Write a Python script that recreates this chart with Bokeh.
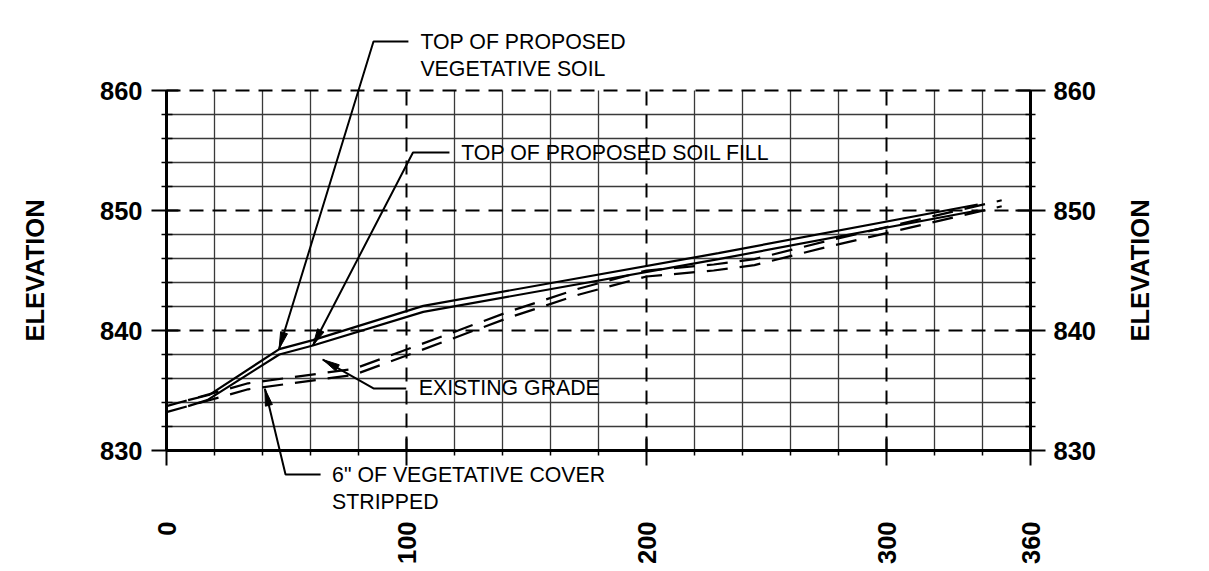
import math
from bokeh.plotting import figure
from bokeh.models import FixedTicker, LinearAxis, Range1d
from bokeh.core.properties import value
from bokeh.embed import file_html
from bokeh.resources import INLINE

# ---------------- data ----------------
station_veg = [9, 18, 47, 61, 107, 230, 338]
elev_veg = [834.2, 834.65, 838.45, 839.2, 842.05, 846.45, 850.5]

station_fill = [9, 17, 47, 61, 107, 230, 338]
elev_fill = [833.7, 834.2, 838.0, 838.75, 841.55, 845.95, 850.0]

station_exist = [0, 34, 78, 106, 143, 172, 200, 228, 245, 275, 290, 348]
elev_exist = [833.7, 835.6, 836.8, 838.85, 841.6, 843.5, 845.0, 845.5, 845.95, 847.45, 848.15, 850.85]

station_strip = [0, 34, 78, 106, 143, 172, 200, 228, 245, 275, 290, 348]
elev_strip = [833.2, 835.1, 836.3, 838.35, 841.1, 843.0, 844.5, 845.0, 845.45, 846.95, 847.65, 850.35]

x_ticks = [0, 100, 200, 300, 360]
x_grid_major = [100, 200, 300]
x_minor = [20, 40, 60, 80, 120, 140, 160, 180, 220, 240, 260, 280, 320, 340]
y_ticks = [830, 840, 850, 860]
y_grid_major = [840, 850, 860]
y_minor = [832, 834, 836, 838, 842, 844, 846, 848, 852, 854, 856, 858]

notes = ["TOP OF PROPOSED", "VEGETATIVE SOIL", "TOP OF PROPOSED SOIL FILL",
         "EXISTING GRADE", '6" OF VEGETATIVE COVER', "STRIPPED"]

X0, X1 = 0, 360
Y0, Y1 = 830, 860

# ---------------- figure (frame covers the whole canvas) ----------------
W, H = 1200, 565
FONT = "Liberation Sans"
p = figure(width=W, height=H,
           x_range=Range1d(-166 / 2.4, (W - 166) / 2.4),
           y_range=Range1d(830 + (450 - H) / 12, 830 + 450 / 12),
           output_backend="svg", toolbar_location=None, min_border=0)
p.background_fill_color = "white"
p.border_fill_color = "white"
p.outline_line_color = None
p.xgrid.visible = False
p.ygrid.visible = False

# grid drawn from the tick arrays
p.segment(x0=x_minor, y0=[Y0] * len(x_minor), x1=x_minor, y1=[Y1] * len(x_minor),
          line_color="#3a3a3a", line_width=1.3)
p.segment(x0=[X0] * len(y_minor), y0=y_minor, x1=[X1] * len(y_minor), y1=y_minor,
          line_color="#3a3a3a", line_width=1.3)
p.segment(x0=x_grid_major, y0=[Y0] * len(x_grid_major), x1=x_grid_major, y1=[Y1] * len(x_grid_major),
          line_color="black", line_width=2, line_dash="14 9")
p.segment(x0=[X0] * len(y_grid_major), y0=y_grid_major, x1=[X1] * len(y_grid_major), y1=y_grid_major,
          line_color="black", line_width=2, line_dash="14 9")


def style_axis(ax):
    ax.axis_line_color = "black"
    ax.axis_line_width = 3
    ax.major_tick_line_color = "black"
    ax.major_tick_line_width = 2
    ax.minor_tick_line_color = "black"
    ax.minor_tick_line_width = 1.5
    ax.major_label_text_font = FONT
    ax.major_label_text_font_style = "bold"
    ax.major_label_text_font_size = "25.5px"
    ax.major_label_text_color = "black"


xa = p.xaxis[0]
style_axis(xa)
xa.fixed_location = Y0
xa.bounds = (X0, X1)
xa.ticker = FixedTicker(ticks=x_ticks, minor_ticks=x_minor)
xa.major_label_orientation = math.pi / 2
xa.major_tick_out = 15
xa.major_tick_in = 12
xa.minor_tick_out = 5
xa.minor_tick_in = 0
xa.major_label_standoff = 56

ya = p.yaxis[0]
style_axis(ya)
ya.fixed_location = X0
ya.bounds = (Y0, Y1)
ya.ticker = FixedTicker(ticks=y_ticks, minor_ticks=y_minor)
ya.major_tick_out = 15
ya.major_tick_in = 12
ya.minor_tick_out = 5
ya.minor_tick_in = 6
ya.major_label_standoff = 9

yr = LinearAxis(fixed_location=X1, bounds=(Y0, Y1))
style_axis(yr)
yr.ticker = FixedTicker(ticks=y_ticks, minor_ticks=y_minor)
yr.major_tick_out = 15
yr.major_tick_in = 15
yr.minor_tick_out = 5
yr.minor_tick_in = 5
yr.major_label_standoff = 8
p.add_layout(yr, "right")

# profile lines
p.line(station_veg, elev_veg, line_color="black", line_width=2.2)
p.line(station_fill, elev_fill, line_color="black", line_width=2.2)
p.line(station_exist, elev_exist, line_color="black", line_width=2.2, line_dash="21 12")
p.line(station_strip, elev_strip, line_color="black", line_width=2.2, line_dash="21 12")

# ---------------- annotations ----------------
# leader polylines: text end -> bend -> arrow tip
leaders = [
    ([100.8, 86.25, 46.9], [864.08, 864.08, 838.46]),
    ([117.9, 102.7, 61.0], [854.83, 854.83, 838.75]),
    ([99.9, 86.25, 65.1], [835.17, 835.17, 837.58]),
    ([64.2, 49.6, 41.0], [828.0, 828.0, 835.14]),
]
p.multi_line([l[0] for l in leaders], [l[1] for l in leaders], line_color="black", line_width=2)

SX, SY = 2.4, 12.0
hx, hy = [], []
for xs, ys in leaders:
    tx, ty, fx, fy = xs[-1], ys[-1], xs[-2], ys[-2]
    dx, dy = (tx - fx) * SX, (ty - fy) * SY
    d = math.hypot(dx, dy)
    ux, uy = dx / d, dy / d
    bx, by = tx * SX - ux * 17, ty * SY - uy * 17
    nx, ny = -uy, ux
    hx.append([tx, (bx + nx * 3.6) / SX, (bx - nx * 3.6) / SX])
    hy.append([ty, (by + ny * 3.6) / SY, (by - ny * 3.6) / SY])
p.patches(hx, hy, fill_color="black", line_color="black", line_width=1)

note_x = [105.8, 105.8, 122.8, 105.1, 69.0, 69.0]
note_y = [864.08, 861.83, 854.83, 835.17, 827.92, 825.67]
p.text(x=note_x, y=note_y, text=notes, text_font=value(FONT), text_font_size="21.3px",
       text_align="left", text_baseline="middle", text_color="black")

p.text(x=[-54.6, 405.8], y=[845, 845], text=["ELEVATION", "ELEVATION"], angle=math.pi / 2,
       text_font=value(FONT), text_font_style="bold", text_font_size="25.5px",
       text_align="center", text_baseline="middle", text_color="black")

open("out.html", "w").write(file_html(p, INLINE))
